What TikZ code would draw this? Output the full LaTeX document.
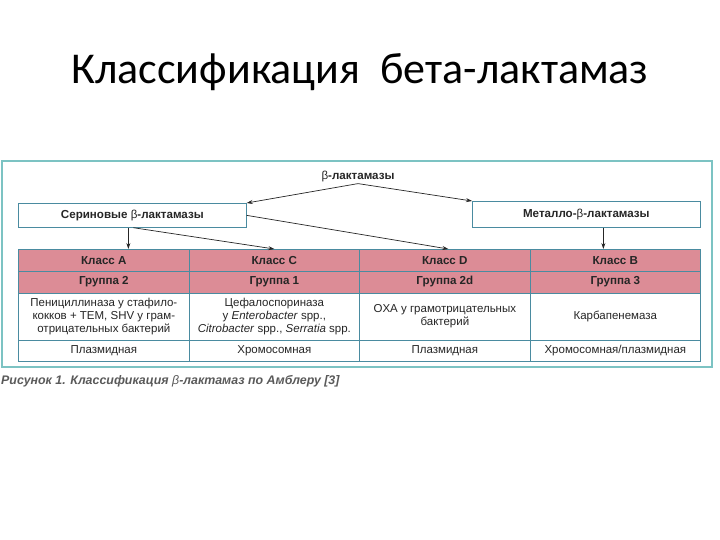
\documentclass[tikz,border=0pt]{standalone}
\usepackage{fontspec}
\setmainfont{Liberation Sans}
\newfontfamily\titlefont{Carlito}
\usetikzlibrary{arrows.meta}
\definecolor{pinkc}{HTML}{DC8C96}
\definecolor{gridc}{HTML}{4A8BA0}
\definecolor{framec}{HTML}{7CC3C3}
\definecolor{txtc}{HTML}{262626}
\definecolor{capc}{HTML}{5A5A5A}
\newcommand{\bet}{{\mdseries β}}
\tikzset{
  cell/.style={draw=gridc, line width=0.7pt, anchor=north west, inner sep=0pt, align=center, text=txtc,
    font=\fontsize{11.5}{13.3}\selectfont},
  head/.style={cell, fill=pinkc, minimum height=21.5pt, font=\fontsize{11.6}{13}\selectfont\bfseries},
  box/.style={draw=gridc, line width=0.7pt, fill=white, inner sep=0pt, text=txtc,
    font=\fontsize{11.6}{13}\selectfont\bfseries},
  arr/.style={-{Stealth[length=6pt,width=4pt]}, line width=0.7pt, black!85}
}
\begin{document}
\begin{tikzpicture}[x=1pt,y=-1pt]
\useasboundingbox (0,0) rectangle (720,540);
\fill[white] (0,0) rectangle (720,540);
% title
\node[font=\titlefont\fontsize{44}{52}\selectfont, text=black] (title) at (360,72) {Классификация\ \ бета-лактамаз};
% frame
\draw[framec, line width=1.2pt] (2,161) rectangle (712,367);
% top label
\node[font=\fontsize{11.6}{13}\selectfont\bfseries, text=txtc, inner sep=1pt] (bl) at (358,177) {\bet-лактамазы};
% boxes
\node[box, minimum width=228pt, minimum height=24pt, anchor=north west] (ser) at (18,203) {Сериновые \bet-лактамазы};
\node[box, minimum width=228pt, minimum height=26pt, anchor=north west] (met) at (472,201) {Металло-\bet-лактамазы};
% table row 1
\node[head, minimum width=171pt] (a1) at (18,249) {Класс A};
\node[head, minimum width=170pt] (c1) at (189,249) {Класс C};
\node[head, minimum width=171pt] (d1) at (359,249) {Класс D};
\node[head, minimum width=170pt] (b1) at (530,249) {Класс B};
% row 2
\node[head, minimum width=171pt, minimum height=22pt] (a2) at (18,270.5) {Группа 2};
\node[head, minimum width=170pt, minimum height=22pt] (c2) at (189,270.5) {Группа 1};
\node[head, minimum width=171pt, minimum height=22pt] (d2) at (359,270.5) {Группа 2d};
\node[head, minimum width=170pt, minimum height=22pt] (b2) at (530,270.5) {Группа 3};
% row 3
\node[cell, minimum width=171pt, minimum height=47pt] (a3) at (18,292.5) {Пенициллиназа у стафило-\\кокков + TEM, SHV у грам-\\отрицательных бактерий};
\node[cell, minimum width=170pt, minimum height=47pt] (c3) at (189,292.5) {Цефалоспориназа\\у \textit{Enterobacter} spp.,\\\textit{Citrobacter} spp., \textit{Serratia} spp.};
\node[cell, minimum width=171pt, minimum height=47pt] (d3) at (359,292.5) {OXA у грамотрицательных\\бактерий};
\node[cell, minimum width=170pt, minimum height=47pt] (b3) at (530,292.5) {Карбапенемаза};
% row 4
\node[cell, minimum width=171pt, minimum height=21.5pt] (a4) at (18,339.5) {Плазмидная};
\node[cell, minimum width=170pt, minimum height=21.5pt] (c4) at (189,339.5) {Хромосомная};
\node[cell, minimum width=171pt, minimum height=21.5pt] (d4) at (359,339.5) {Плазмидная};
\node[cell, minimum width=170pt, minimum height=21.5pt] (b4) at (530,339.5) {Хромосомная/плазмидная};
% caption
\node[anchor=west, font=\fontsize{12.4}{14}\selectfont\bfseries\itshape, text=capc, inner sep=0pt] (cap) at (1,381) {Рисунок 1. Классификация {\mdseries\itshape β}-лактамаз по Амблеру [3]};
% arrows
\draw[arr] (bl.south) -- (ser.north east);
\draw[arr] (bl.south) -- (met.north west);
\draw[arr] ([xshift=-4pt]ser.south) -- ([xshift=-4pt]ser.south |- a1.north);
\draw[arr] ([xshift=1pt]ser.south) -- (c1.north);
\draw[arr] (ser.east) -- ([xshift=3.5pt]d1.north);
\draw[arr] ([xshift=17pt]met.south) -- ([xshift=17pt]met.south |- b1.north);
\end{tikzpicture}
\end{document}
